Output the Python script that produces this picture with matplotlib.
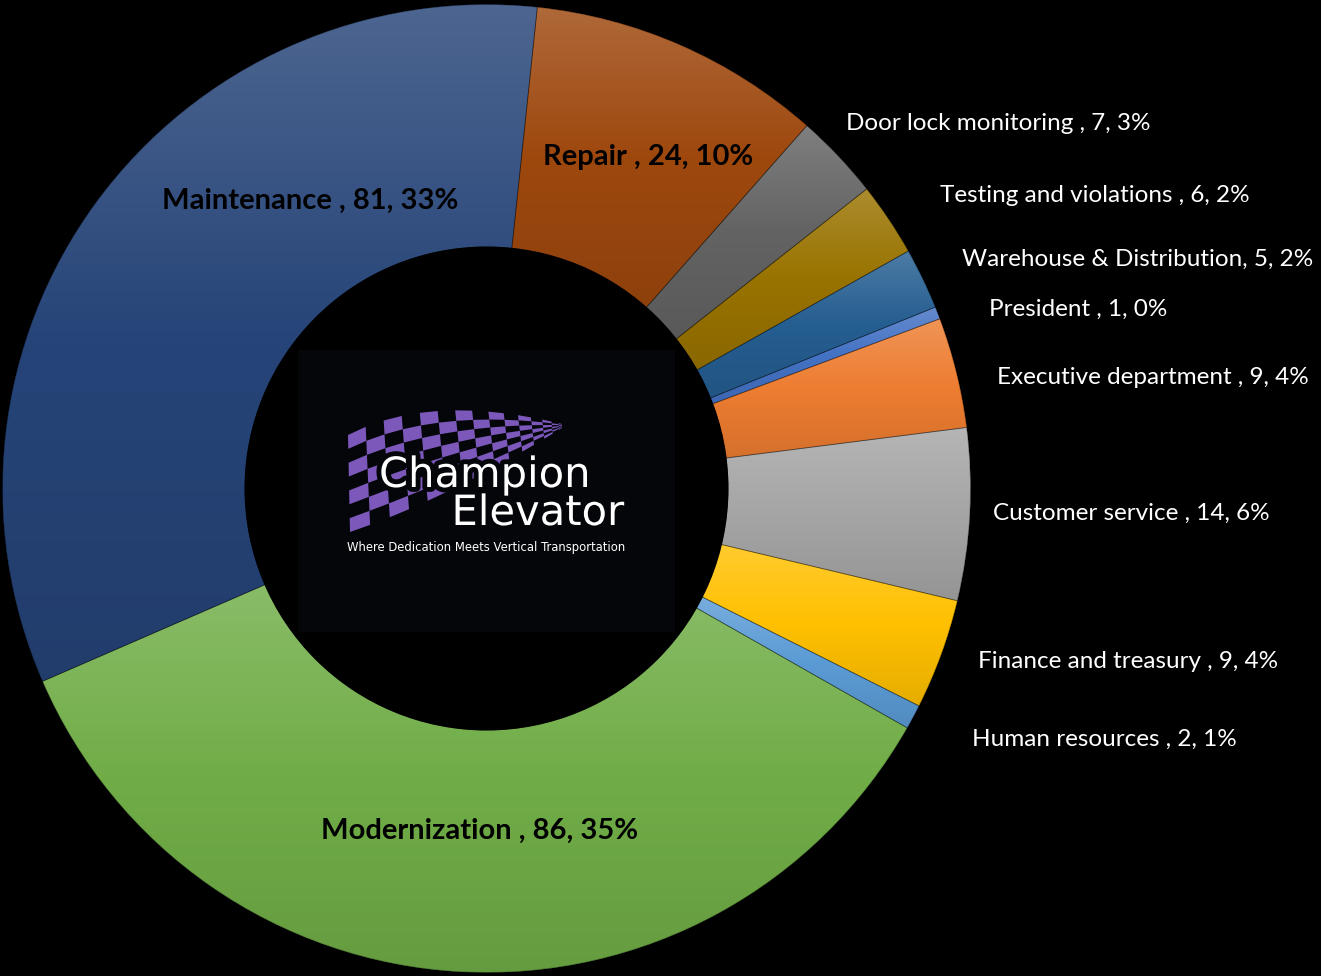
import numpy as np
import matplotlib
matplotlib.use("Agg")
import matplotlib.pyplot as plt
import matplotlib.patheffects as pe
from matplotlib.patches import Rectangle, Polygon, Circle, PathPatch

# data (order as the spreadsheet has it, drawn clockwise)
departments = ["President ", "Executive department ", "Customer service ",
               "Finance and treasury ", "Human resources ", "Modernization ",
               "Maintenance ", "Repair ", "Door lock monitoring ",
               "Testing and violations ", "Warehouse & Distribution"]
counts = [1, 9, 14, 9, 2, 86, 81, 24, 7, 6, 5]
colors = ["#4472C4", "#ED7D31", "#A5A5A5", "#FFC000", "#5B9BD5", "#70AD47",
          "#264478", "#9E480E", "#636363", "#997300", "#255E91"]

# label layout, in pixels of the 1321x976 picture
inside = {"Modernization ": (480, 831), "Maintenance ": (310, 201), "Repair ": (648, 157)}
outside = {"President ": (989, 309), "Executive department ": (997, 377),
           "Customer service ": (993, 513), "Finance and treasury ": (978, 661),
           "Human resources ": (972, 739), "Door lock monitoring ": (846, 124),
           "Testing and violations ": (940, 196), "Warehouse & Distribution": (962, 259)}

W, H = 1321, 976


def P(px, py):
    return px, H - py


fig = plt.figure(figsize=(W / 100, H / 100), dpi=100, facecolor="black")
ax = fig.add_axes([0, 0, 1, 1])
ax.set_facecolor("black")

cx, cy = P(486.5, 488.5)
R = 484
r_in = 241.5
wedges, _ = ax.pie(counts, colors=colors, startangle=22.0, counterclock=False,
                   radius=R, center=(cx, cy),
                   wedgeprops=dict(width=R - r_in, edgecolor="none"))


def shade(c, top=0.18, bottom=0.9):
    rgb = np.array(matplotlib.colors.to_rgb(c))
    t = np.linspace(0, 1, 256)[:, None]
    light = rgb + (1 - rgb) * top
    dark = rgb * bottom
    # lower half: dark -> base, upper half: base -> light
    g = np.where(t < 0.5, dark + (rgb - dark) * (t / 0.5), rgb + (light - rgb) * ((t - 0.5) / 0.5))
    return np.clip(g, 0, 1)[:, None, :]


for w, c in zip(wedges, colors):
    ext = w.get_path().get_extents()
    im = ax.imshow(shade(c), extent=(ext.x0, ext.x1, ext.y0, ext.y1), origin="lower",
                   aspect="auto", interpolation="bilinear", zorder=1.5)
    im.set_clip_path(w)
    w.set_zorder(1)
    ax.add_patch(PathPatch(w.get_path(), fill=False, edgecolor=(0, 0, 0, 0.35),
                           linewidth=0.6, zorder=1.6))

# hole and logo panel
ax.add_patch(Circle((cx, cy), r_in + 0.5, facecolor="black", edgecolor="none", zorder=2))
x0, y0 = P(298, 632)
ax.add_patch(Rectangle((x0, y0), 675 - 298, 632 - 350, facecolor="#05060A",
                       edgecolor="none", zorder=2.1))


# checkered swoosh of the logo
def bez(p0, p1, p2, t):
    p0, p1, p2 = map(np.array, (p0, p1, p2))
    return (1 - t) ** 2 * p0 + 2 * (1 - t) * t * p1 + t ** 2 * p2


top = (P(348, 435), P(430, 392), P(562, 424))
bot = (P(350, 532), P(445, 500), P(562, 428))
nu, nv = 15, 7
us = 1 - (1 - np.linspace(0, 1, nu + 1)) ** 1.6
for i in range(nu):
    for j in range(nv):
        if (i + j) % 2:
            continue
        pts = []
        for u, v in ((us[i], j / nv), (us[i + 1], j / nv), (us[i + 1], (j + 1) / nv), (us[i], (j + 1) / nv)):
            a = bez(*top, u)
            b = bez(*bot, u)
            pts.append(a + (b - a) * v)
        ax.add_patch(Polygon(pts, closed=True, facecolor="#7B58BA", edgecolor="none", zorder=2.2))

knock = [pe.withStroke(linewidth=7, foreground="#05060A")]
ax.text(*P(379, 487), "Champion", color="white", fontsize=30, family="DejaVu Sans",
        ha="left", va="baseline", zorder=3, path_effects=knock)
ax.text(*P(624, 525), "Elevator", color="white", fontsize=30, family="DejaVu Sans",
        ha="right", va="baseline", zorder=3, path_effects=knock)
ax.text(*P(486, 547), "Where Dedication Meets Vertical Transportation", color="white",
        fontsize=8.4, family="DejaVu Sans", ha="center", va="center", zorder=3)

# data labels
total = sum(counts)
for name, v in zip(departments, counts):
    txt = f"{name}, {v}, {round(v / total * 100)}%"
    if name in inside:
        ax.text(*P(*inside[name]), txt, color="black", fontsize=21, fontweight="bold",
                family="Lato", ha="center", va="center", zorder=4)
    else:
        ax.text(*P(*outside[name]), txt, color="white", fontsize=17.5,
                family="Lato", ha="left", va="center", zorder=4)

ax.set_xlim(0, W)
ax.set_ylim(0, H)
ax.set_aspect("equal")
ax.axis("off")
fig.savefig("out.png", dpi=100, facecolor="black")
